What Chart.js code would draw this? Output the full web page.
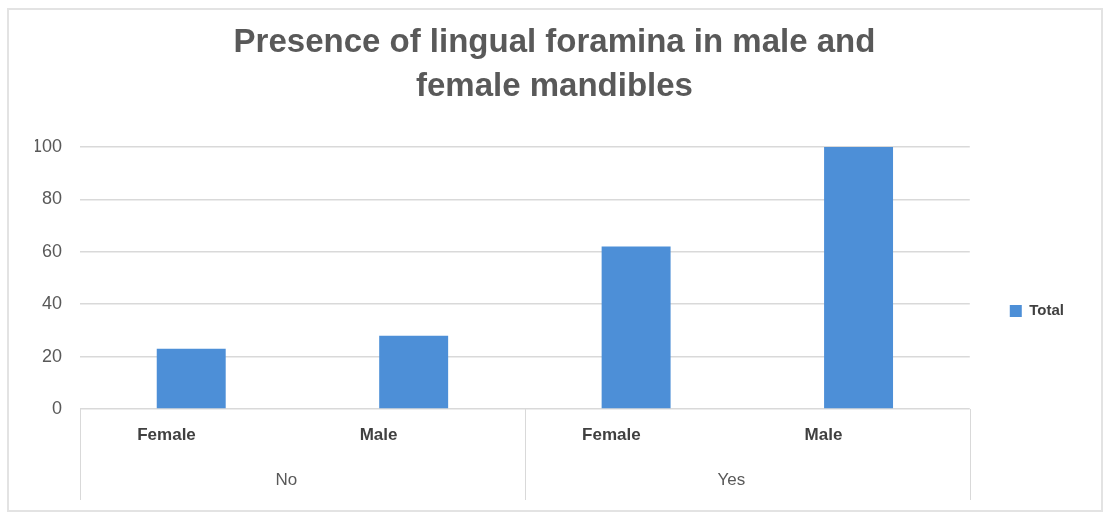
<!DOCTYPE html>
<html>
<head>
<meta charset="utf-8">
<script src="https://cdn.jsdelivr.net/npm/chart.js@4"></script>
<style>
  html, body { margin: 0; padding: 0; background: #fff; }
  #wrap { width: 1104px; height: 512px; }
</style>
</head>
<body>
<div id="wrap"><canvas id="chart" width="1104" height="512"></canvas></div>
<script>
// categories: inner level (sex) and outer level (foramina present?)
const sexLabels = ['Female', 'Male', 'Female', 'Male'];
const groupLabels = ['No', 'Yes'];
const groupSizes = [2, 2];
const totalValues = [23, 28, 62, 100];
const yTicks = [0, 20, 40, 60, 80, 100];

const barColor = '#4d8fd7';
const gridColor = '#d9d9d9';
const textColor = '#595959';
const fontFamily = '"Liberation Sans", Arial, sans-serif';

// frame, nested axis lines and outer group labels
const multiLevelAxis = {
    id: 'multiLevelAxis',
    beforeDraw(chart) {
        const c = chart.ctx;
        c.save();
        c.strokeStyle = '#e3e3e3';
        c.lineWidth = 2;
        c.strokeRect(8, 9, 1094, 502);
        c.restore();
    },
    afterDraw(chart) {
        const c = chart.ctx;
        const x = chart.scales.x;
        const area = chart.chartArea;
        const bottom = 500;
        c.save();
        c.strokeStyle = gridColor;
        c.lineWidth = 1;
        let start = 0;
        const edges = [area.left];
        groupSizes.forEach(n => {
            const end = start + n - 1;
            edges.push(end + 1 < sexLabels.length
                ? (x.getPixelForValue(end) + x.getPixelForValue(end + 1)) / 2
                : area.right);
            start += n;
        });
        edges.forEach(px => {
            c.beginPath();
            c.moveTo(Math.round(px) + 0.5, area.bottom);
            c.lineTo(Math.round(px) + 0.5, bottom);
            c.stroke();
        });
        c.fillStyle = textColor;
        c.font = '17px ' + fontFamily;
        c.textAlign = 'center';
        c.textBaseline = 'middle';
        groupLabels.forEach((g, i) => {
            c.fillText(g, (edges[i] + edges[i + 1]) / 2 - 16, 480);
        });
        c.restore();
    }
};

const ctx = document.getElementById('chart');

new Chart(ctx, {
    type: 'bar',
    data: {
        labels: sexLabels,
        datasets: [
            {
                label: 'Total',
                data: totalValues,
                backgroundColor: barColor,
                barPercentage: 0.31,
                categoryPercentage: 1
            }
        ]
    },
    options: {
        responsive: false,
        animation: false,
        layout: {
            padding: {left: 35, right: 30, top: 0, bottom: 0}
        },
        scales: {
            x: {
                grid: {display: false},
                border: {display: false},
                ticks: {
                    color: '#404040',
                    padding: 8,
                    align: 'start',
                    labelOffset: -54,
                    font: {family: fontFamily, size: 17, weight: 'bold'}
                },
                afterFit: function(scale) { scale.height = 103; }
            },
            y: {
                min: 0,
                max: 100,
                afterBuildTicks: function(scale) {
                    scale.ticks = yTicks.map(v => ({value: v}));
                },
                grid: {color: gridColor, drawTicks: false, lineWidth: 1.5},
                border: {display: false},
                ticks: {
                    color: textColor,
                    padding: 18,
                    font: {family: fontFamily, size: 18}
                },
                afterFit: function(scale) { scale.width = 45; }
            }
        },
        plugins: {
            title: {
                display: true,
                text: ['Presence of lingual foramina in male and', 'female mandibles'],
                color: textColor,
                font: {family: fontFamily, size: 33, weight: 'bold', lineHeight: 1.333},
                padding: {top: 21, bottom: 38}
            },
            legend: {
                position: 'right',
                title: {
                    display: true,
                    text: '',
                    font: {size: 10, lineHeight: 1},
                    padding: {top: 50, bottom: 50}
                },
                labels: {
                    boxWidth: 12,
                    boxHeight: 12,
                    padding: 40,
                    color: '#404040',
                    font: {family: fontFamily, size: 15, weight: 'bold'}
                }
            },
            tooltip: {enabled: false}
        }
    },
    plugins: [multiLevelAxis]
});
</script>
</body>
</html>
